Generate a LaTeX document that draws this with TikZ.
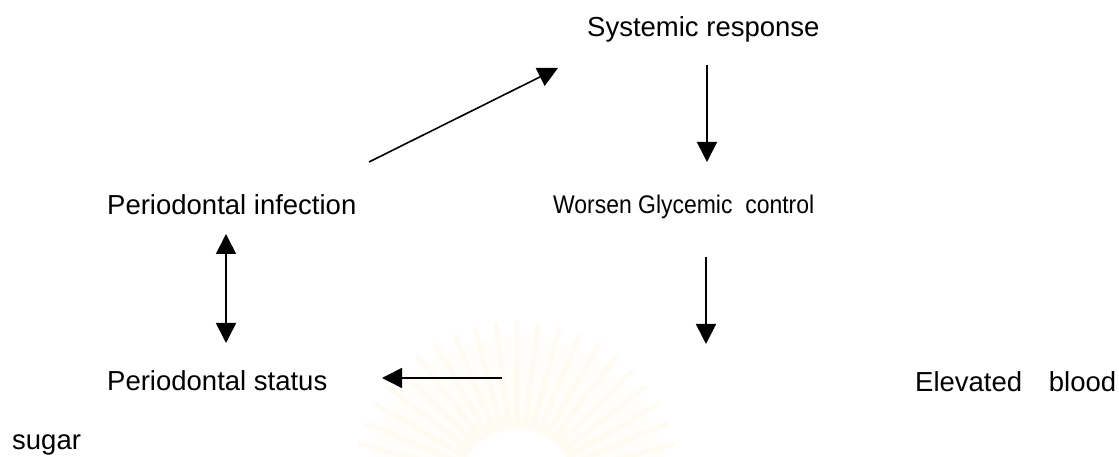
\documentclass[tikz,border=0pt]{standalone}
\usepackage{fontspec}
\setmainfont{Liberation Sans}
\usetikzlibrary{arrows.meta}
\definecolor{wmA}{RGB}{255,254,250}
\definecolor{wmB}{RGB}{254,251,242}
\tikzset{
  lbl/.style={anchor=base west, inner sep=0pt, font=\fontsize{27.5}{33}\selectfont},
  lblsmall/.style={anchor=base west, inner sep=0pt, font=\fontsize{25.5}{30}\selectfont},
  arr/.style={line width=1.6pt, -{Triangle[length=20pt,width=20pt]}},
  darr/.style={line width=1.6pt, {Triangle[length=20pt,width=20pt]}-{Triangle[length=20pt,width=20pt]}}
}
\begin{document}
\begin{tikzpicture}[x=1pt,y=1pt]
\useasboundingbox (0,0) rectangle (1119,457);
% faint watermark
\begin{scope}
\clip (0,0) rectangle (1119,457);
\coordinate (wc) at (517,-29);
\fill[wmA] (wc) circle (150);
\foreach \a in {0,7.5,...,352.5}{
  \fill[wmB] ([shift={(wc)}]\a-3.5:58) -- ([shift={(wc)}]\a-0.8:164) -- ([shift={(wc)}]\a+0.8:164) -- ([shift={(wc)}]\a+3.5:58) -- cycle;
}
\fill[white] (wc) circle (56);
\end{scope}
% texts
\node[lbl] (sys)  at (587,420) {Systemic response};
\node[lbl] (inf)  at (107,242) {Periodontal infection};
\node[lblsmall] (wor)  at (553,243) {\scalebox{0.9}[1]{Worsen Glycemic\ \ control}};
\node[lbl] (stat) at (107,66)  {Periodontal status};
\node[lbl] (elev) at (915,65)  {Elevated\hspace{26.7pt}blood};
\node[lbl] (sug)  at (12,7)    {sugar};
% arrow end points
\coordinate (d1) at (369,295);
\coordinate (d2) at (558,389);
\coordinate (v1a) at (707,392);
\coordinate (v1b) at (707,295);
\coordinate (da) at (226,223);
\coordinate (db) at (226,114);
\coordinate (v2a) at (706,200);
\coordinate (v2b) at (706,113);
\coordinate (ha) at (502,79);
\coordinate (hb) at (382,79);
% arrows
\draw[arr] (d1) -- (d2);
\draw[arr] (v1a) -- (v1b);
\draw[darr] (da) -- (db);
\draw[arr] (v2a) -- (v2b);
\draw[arr] (ha) -- (hb);
\end{tikzpicture}
\end{document}
